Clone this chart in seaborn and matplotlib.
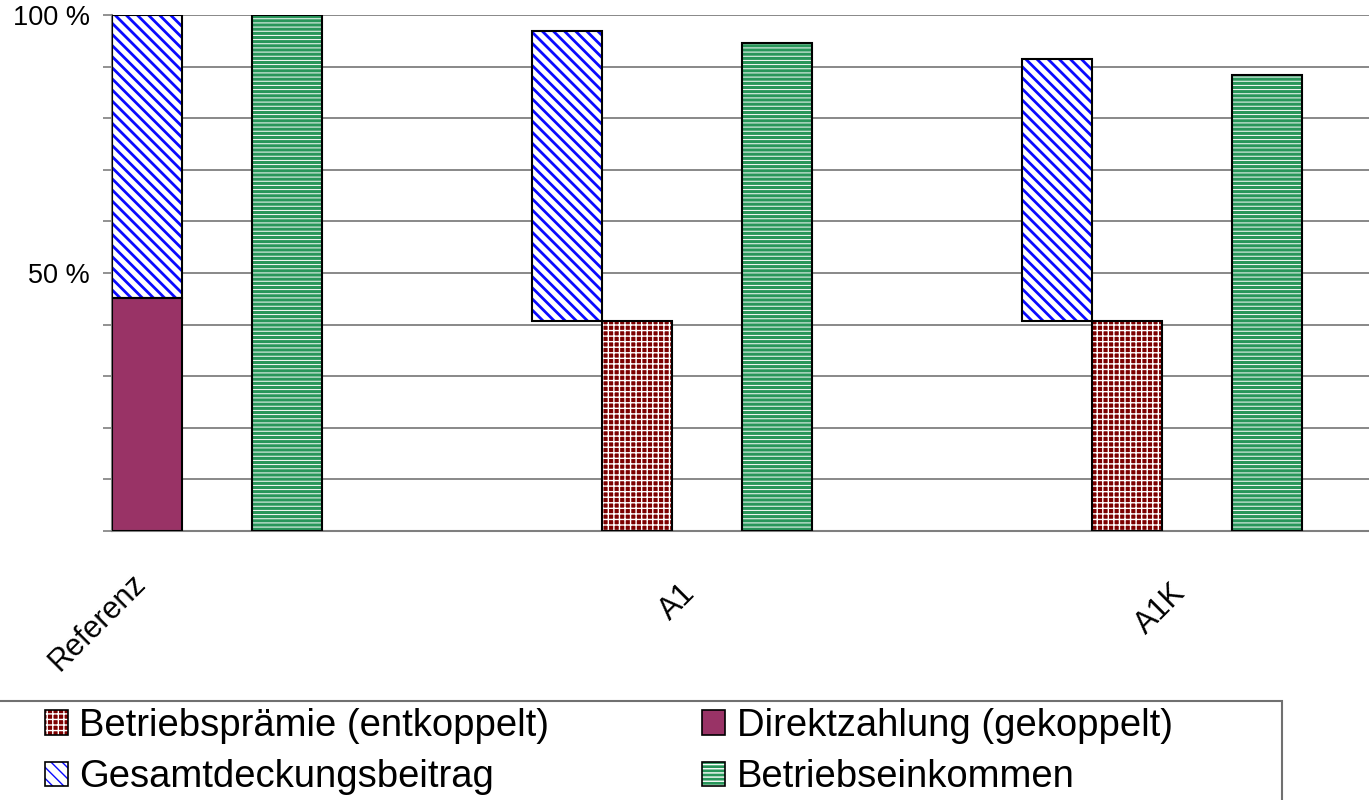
import matplotlib
matplotlib.use("Agg")
import matplotlib.pyplot as plt
from matplotlib.patches import Patch, Rectangle
from matplotlib.legend_handler import HandlerTuple
from matplotlib.transforms import ScaledTranslation
import seaborn as sns

# ---- data (shares in % of the reference income) ----
categories = ["Referenz", "A1", "A1K"]
betriebspraemie = [0.0, 40.7, 40.7]          # decoupled single farm payment
direktzahlung = [45.2, 0.0, 0.0]             # coupled direct payments
gesamtdeckungsbeitrag = [54.8, 56.2, 50.8]   # total gross margin
betriebseinkommen = [100.0, 94.6, 88.4]      # farm income

y_ticks = [0, 10, 20, 30, 40, 50, 60, 70, 80, 90, 100]
y_tick_labels = ["", "", "", "", "", "50 %", "", "", "", "", "100 %"]

legend_labels = {
    "bp": "Betriebsprämie (entkoppelt)",
    "dz": "Direktzahlung (gekoppelt)",
    "gdb": "Gesamtdeckungsbeitrag",
    "be": "Betriebseinkommen",
}

# ---- styling ----
sns.set_theme(style="white")
plt.rcParams["font.family"] = ["Liberation Sans", "DejaVu Sans"]
plt.rcParams["text.color"] = "black"

styles = {
    "bp": dict(face="#7d0000", hatch="+++", hcolor="white", hlw=1.0),
    "dz": dict(face="#993366", hatch=None, hcolor="#993366", hlw=1.0),
    "gdb": dict(face="white", hatch="\\\\\\", hcolor="#0a0aff", hlw=2.0),
    "be": dict(face="#28965a", hatch="----", hcolor="white", hlw=0.7),
}

W, H = 1369, 800
fig = plt.figure(figsize=(W / 100, H / 100), dpi=100)
slot_px = 70.0
ax = fig.add_axes([112 / W, (H - 531) / H, (W - 112) / W, 516 / H])


def draw_bar(x, height, bottom, key):
    st = styles[key]
    with plt.rc_context({"hatch.linewidth": st["hlw"]}):
        bars = ax.bar(x, height, width=1.0, bottom=bottom, align="edge",
                      color=st["face"], edgecolor=st["hcolor"], linewidth=0,
                      hatch=st["hatch"], zorder=2)
    for b in bars:
        if hasattr(b, "set_hatch_linewidth"):
            b.set_hatch_linewidth(st["hlw"])
    ax.bar(x, height, width=1.0, bottom=bottom, align="edge", fill=False,
           edgecolor="black", linewidth=1.5, zorder=3)


group_step = 7
tick_pos = []
for k, cat in enumerate(categories):
    base = group_step * k          # slot of the payment bar
    bp, dz = betriebspraemie[k], direktzahlung[k]
    if dz > 0:
        draw_bar(base, dz, 0, "dz")
    if bp > 0:
        draw_bar(base, bp, 0, "bp")
    # gross margin sits on top of the payments; beside the decoupled premium
    gdb_slot = base - 1 if bp > 0 else base
    draw_bar(gdb_slot, gesamtdeckungsbeitrag[k], bp + dz, "gdb")
    draw_bar(base + 2, betriebseinkommen[k], 0, "be")
    tick_pos.append(base + 1.12)

ax.set_xlim(0, (W - 112) / slot_px)
ax.set_ylim(0, 100)

# ---- axes, grid and ticks ----
ax.set_axisbelow(True)
ax.yaxis.grid(True, color="#7f7f7f", linewidth=1.3)
ax.xaxis.grid(False)
ax.set_yticks(y_ticks)
ax.set_yticklabels(y_tick_labels)
ax.tick_params(axis="y", length=6.5, width=1.2, color="#7f7f7f", pad=9.4,
               labelsize=19.5, labelcolor="black", left=True)
ax.set_xticks(tick_pos)
ax.set_xticklabels(categories, rotation=45, ha="right", va="top",
                   rotation_mode="anchor", fontsize=22, color="black")
ax.tick_params(axis="x", length=0, pad=34)
first = ax.get_xticklabels()[0]
first.set_transform(first.get_transform() +
                    ScaledTranslation(-0.6, 0.10, fig.dpi_scale_trans))

for side in ("top", "right"):
    ax.spines[side].set_visible(False)
for side in ("left", "bottom"):
    ax.spines[side].set_color("#7f7f7f")
    ax.spines[side].set_linewidth(1.5)
ax.set_xlabel("")
ax.set_ylabel("")

# ---- legend ----
def handle(key):
    st = styles[key]
    with plt.rc_context({"hatch.linewidth": st["hlw"]}):
        p = Patch(facecolor=st["face"], edgecolor=st["hcolor"], linewidth=0,
                  hatch=st["hatch"])
    if hasattr(p, "set_hatch_linewidth"):
        p.set_hatch_linewidth(st["hlw"])
    outline = Patch(fill=False, edgecolor="black", linewidth=1.2)
    return (p, outline)


order = ["bp", "gdb", "dz", "be"]
fig.legend([handle(k) for k in order], [legend_labels[k] for k in order],
           handler_map={tuple: HandlerTuple(ndivide=1)},
           ncol=2, loc="upper left",
           bbox_to_anchor=(45 / W, (H - 708) / H), bbox_transform=fig.transFigure,
           frameon=False, fontsize=27.5, handlelength=0.6, handleheight=0.6,
           handletextpad=0.3, labelspacing=0.4, columnspacing=4.0,
           borderpad=0, borderaxespad=0)

frame = Rectangle((-6 / W, -0.1), (1282 + 6) / W, (H - 701) / H + 0.1,
                  transform=fig.transFigure, fill=False, edgecolor="#707070",
                  linewidth=1.5)
fig.add_artist(frame)

fig.savefig("out.png", dpi=100)
